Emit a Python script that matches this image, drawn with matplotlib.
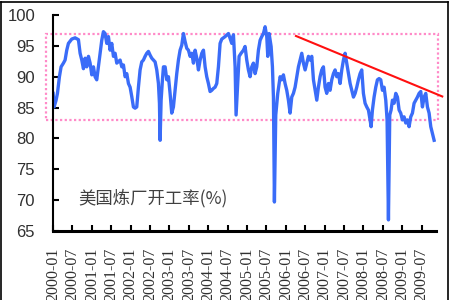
"""
    US refinery utilisation chart
"""

import matplotlib
matplotlib.use("Agg")
from matplotlib import pyplot as plt
from matplotlib.lines import Line2D
from matplotlib.patches import Rectangle
import matplotlib.transforms as mtransforms
import numpy as np

# years since 2000-01 (decimal) and utilisation rate (%)
years = [
    0.000, 0.026, 0.077, 0.112, 0.163, 0.206, 0.266, 0.309, 0.352, 0.395,
    0.481, 0.567, 0.653, 0.696, 0.739, 0.782, 0.825, 0.868, 0.911, 0.954,
    0.997, 1.040, 1.082, 1.125, 1.168, 1.211, 1.254, 1.297, 1.340, 1.383,
    1.426, 1.469, 1.512, 1.555, 1.598, 1.641, 1.727, 1.770, 1.813, 1.856,
    1.899, 1.942, 1.985, 2.027, 2.070, 2.113, 2.156, 2.199, 2.242, 2.285,
    2.328, 2.371, 2.414, 2.457, 2.500, 2.543, 2.586, 2.629, 2.672, 2.715,
    2.741, 2.758, 2.784, 2.818, 2.844, 2.887, 2.930, 2.973, 3.015, 3.058,
    3.101, 3.144, 3.187, 3.230, 3.273, 3.316, 3.359, 3.402, 3.445, 3.488,
    3.531, 3.574, 3.617, 3.660, 3.703, 3.746, 3.789, 3.832, 3.875, 3.918,
    3.960, 4.003, 4.046, 4.089, 4.132, 4.175, 4.218, 4.261, 4.304, 4.347,
    4.433, 4.519, 4.605, 4.648, 4.691, 4.716, 4.759, 4.794, 4.845, 4.905,
    4.948, 4.991, 5.034, 5.077, 5.120, 5.163, 5.206, 5.249, 5.292, 5.335,
    5.378, 5.421, 5.464, 5.507, 5.533, 5.567, 5.619, 5.653, 5.679, 5.704,
    5.739, 5.790, 5.851, 5.893, 5.936, 5.979, 6.022, 6.065, 6.108, 6.151,
    6.194, 6.237, 6.280, 6.323, 6.366, 6.409, 6.452, 6.495, 6.538, 6.581,
    6.624, 6.667, 6.710, 6.753, 6.796, 6.838, 6.881, 6.924, 6.967, 7.010,
    7.053, 7.096, 7.139, 7.182, 7.225, 7.268, 7.311, 7.354, 7.397, 7.440,
    7.483, 7.526, 7.569, 7.612, 7.655, 7.698, 7.741, 7.784, 7.826, 7.869,
    7.912, 7.955, 7.998, 8.041, 8.084, 8.127, 8.170, 8.196, 8.230, 8.273,
    8.316, 8.359, 8.402, 8.445, 8.488, 8.531, 8.574, 8.608, 8.643, 8.677,
    8.711, 8.746, 8.789, 8.832, 8.875, 8.918, 8.960, 9.003, 9.046, 9.089,
    9.132, 9.175, 9.218, 9.261, 9.304, 9.347, 9.390, 9.433, 9.476, 9.519,
    9.562, 9.605, 9.648, 9.691, 9.734, 9.777, 9.820,
]
rate = [
    87.3, 85.1, 86.2, 87.3, 90.0, 91.6, 92.2, 92.7, 94.3, 95.4,
    96.1, 96.3, 96.0, 93.8, 92.7, 91.3, 93.0, 91.6, 93.3, 92.2,
    90.3, 91.6, 90.0, 89.5, 91.6, 93.8, 95.9, 97.3, 97.0, 95.4,
    96.5, 94.3, 95.4, 93.3, 93.8, 92.2, 92.7, 91.6, 91.9, 90.0,
    90.5, 88.9, 88.3, 86.8, 85.1, 84.9, 85.1, 88.3, 91.1, 92.4,
    92.7, 93.3, 93.8, 94.1, 93.5, 93.0, 92.7, 92.4, 91.1, 88.9,
    85.7, 79.7, 86.2, 89.5, 91.6, 91.6, 89.5, 90.0, 87.3, 84.1,
    85.1, 87.8, 90.5, 92.7, 94.3, 95.1, 97.0, 95.7, 94.6, 94.3,
    93.3, 93.8, 92.2, 94.3, 93.0, 91.1, 92.7, 93.8, 94.3, 91.6,
    90.0, 88.9, 87.6, 87.8, 88.1, 88.3, 88.9, 91.6, 95.4, 96.1,
    96.5, 97.0, 95.4, 96.8, 91.6, 83.8, 88.9, 93.3, 93.8, 94.3,
    94.9, 92.7, 91.1, 90.0, 91.6, 92.2, 90.5, 91.6, 94.3, 95.9,
    96.5, 97.0, 98.1, 96.5, 93.3, 97.0, 94.9, 91.6, 86.7, 69.7,
    83.8, 87.3, 90.0, 89.5, 90.3, 88.9, 87.8, 86.2, 84.1, 86.7,
    87.3, 88.3, 90.0, 91.6, 92.7, 93.8, 92.2, 91.1, 92.2, 93.3,
    92.7, 93.3, 89.5, 87.8, 86.2, 88.3, 90.0, 91.1, 91.6, 88.3,
    87.3, 88.9, 87.8, 89.5, 90.5, 91.1, 90.0, 90.5, 88.9, 91.1,
    92.7, 93.8, 92.2, 90.5, 88.9, 87.8, 86.7, 87.3, 88.3, 89.5,
    90.5, 91.1, 87.3, 85.7, 85.1, 84.6, 83.0, 81.9, 84.6, 86.7,
    88.3, 89.5, 89.7, 89.5, 87.8, 88.3, 86.2, 83.0, 66.8, 83.8,
    84.6, 86.2, 85.7, 87.3, 86.7, 84.6, 84.1, 83.0, 83.5, 82.5,
    83.0, 81.9, 83.5, 84.1, 85.7, 86.2, 86.7, 87.3, 87.6, 85.1,
    86.7, 87.3, 85.1, 84.1, 81.9, 80.8, 79.7,
]

tick_labels = ['2000-01', '2000-07', '2001-01', '2001-07', '2002-01', '2002-07',
               '2003-01', '2003-07', '2004-01', '2004-07', '2005-01', '2005-07',
               '2006-01', '2006-07', '2007-01', '2007-07', '2008-01', '2008-07',
               '2009-01', '2009-07']

band_low, band_high = 83, 97
band_start, band_end = -0.18, 9.92
trend_x = [6.26, 10.03]
trend_y = [96.6, 86.8]

title = '美国炼厂开工率(%)'


def draw():
    fig = plt.figure(figsize=(4.5, 3), dpi=100)
    ax = fig.add_axes([0.118, 0.23, 0.851, 0.72])

    ax.plot(years, rate, color='#3A6CF8', lw=2.4, solid_joinstyle='round')

    # range band and falling trend line, both spill past the axes
    band = Rectangle((band_start, band_low), band_end - band_start,
                     band_high - band_low, fill=False, edgecolor='#FF8AC8',
                     lw=1.6, linestyle=(0, (1, 1.1)), clip_on=False)
    ax.add_patch(band)
    ax.plot(trend_x, trend_y, color='#FF1010', lw=1.5, clip_on=False)

    ax.text(0.64, 70.3, title, ha='left', va='center', fontsize=12.5,
            color='#404040', family=['Noto Sans CJK SC', 'DejaVu Sans'])

    ax.set_xlim(0, 9.87)
    ax.set_ylim(65, 100)
    ax.set_yticks(np.arange(65, 101, 5))
    ax.set_xticks(np.arange(len(tick_labels)) * 0.5)
    ax.set_xticklabels(tick_labels, rotation=90, fontsize=11.5,
                       family='Liberation Serif', color='#303030')
    for lab in ax.get_yticklabels():
        lab.set_family('Liberation Sans')
        lab.set_fontsize(12)
        lab.set_color('#303030')

    shift = mtransforms.ScaledTranslation(-5 / 100, 0, fig.dpi_scale_trans)
    for lab in ax.get_xticklabels():
        lab.set_transform(lab.get_transform() + shift)

    ax.tick_params(axis='both', direction='in', length=4, width=1.5, color='black')
    ax.tick_params(axis='y', pad=13)
    ax.tick_params(axis='x', pad=12)

    for side in ('top', 'right'):
        ax.spines[side].set_visible(False)
    ax.spines['left'].set_linewidth(1.5)
    ax.spines['bottom'].set_linewidth(2.2)

    # outer frame (bottom edge is cut off in the original)
    for xs, ys in (([0.003, 0.003], [0, 0.995]), ([0.003, 0.995], [0.995, 0.995]),
                   ([0.995, 0.995], [0, 0.995])):
        fig.add_artist(Line2D(xs, ys, transform=fig.transFigure, color='black', lw=1.2))

    plt.savefig('out.png', dpi=100)


if __name__ == '__main__':
    draw()
